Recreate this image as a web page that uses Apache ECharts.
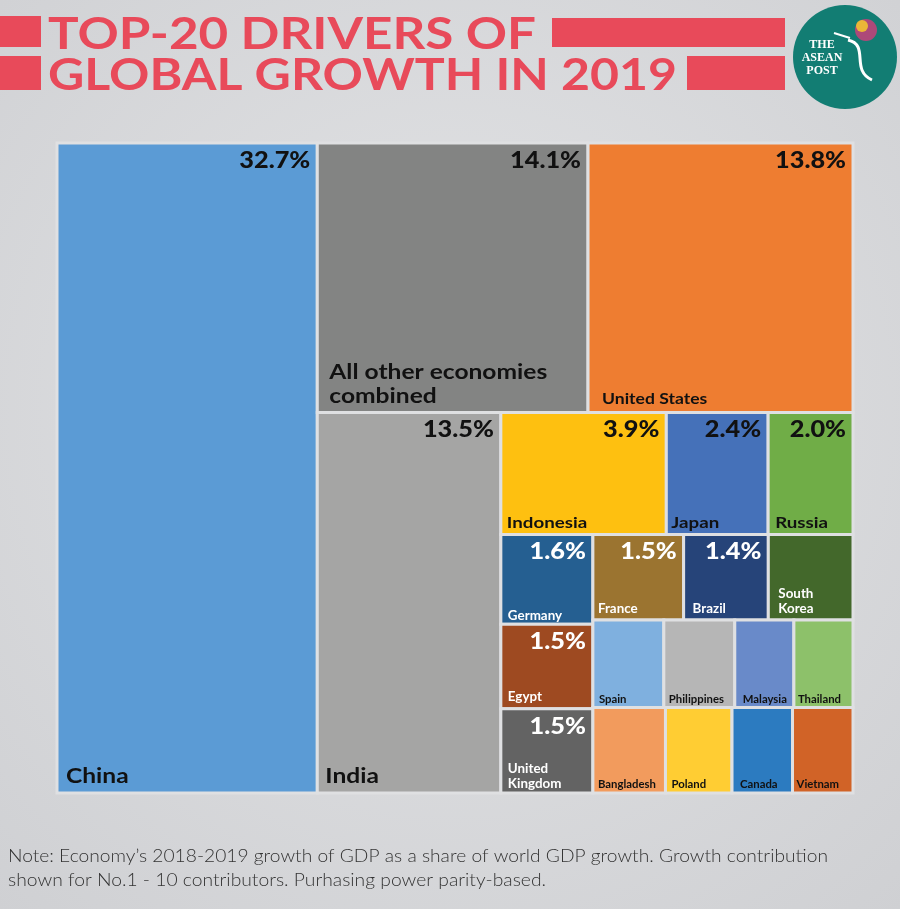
<!DOCTYPE html>
<html>
<head>
<meta charset="utf-8">
<script src="https://cdn.jsdelivr.net/npm/echarts@6/dist/echarts.min.js"></script>
<style>
html,body{margin:0;padding:0;width:900px;height:909px;overflow:hidden;}
#chart{width:900px;height:909px;}
</style>
</head>
<body>
<div id="chart"></div>
<script>
// ---------------- DATA ----------------
const economies = ['China','All other economies combined','United States','India','Indonesia','Japan','Russia',
  'Germany','France','Brazil','South Korea','Egypt','United Kingdom',
  'Spain','Philippines','Malaysia','Thailand','Bangladesh','Poland','Canada','Vietnam'];
const shares = [32.7,14.1,13.8,13.5,3.9,2.4,2.0,1.6,1.5,1.4,1.4,1.5,1.5,1.2,1.2,1.0,1.0,1.2,1.1,1.0,1.0];
const shareShown = [true,true,true,true,true,true,true,true,true,true,false,true,true,false,false,false,false,false,false,false,false];
const displayNames = ['China','All other economies\ncombined','United States','India','Indonesia','Japan','Russia',
  'Germany','France','Brazil','South\nKorea','Egypt','United\nKingdom',
  'Spain','Philippines','Malaysia','Thailand','Bangladesh','Poland','Canada','Vietnam'];
const titleLines = ['TOP-20 DRIVERS OF','GLOBAL GROWTH IN 2019'];
const noteLines = ["Note: Economy\u2019s 2018-2019 growth of GDP as a share of world GDP growth. Growth contribution",
  "shown for No.1 - 10 contributors. Purhasing power parity-based."];

// nesting of the treemap: 'h' = side by side, 'v' = stacked
const structure = ['h','China',['v',['h','All other economies combined','United States'],
  ['h','India',['v',['h','Indonesia','Japan','Russia'],
    ['h',['v','Germany','Egypt','United Kingdom'],
      ['v',['h','France','Brazil','South Korea'],
        ['v',['h','Spain','Philippines','Malaysia','Thailand'],['h','Bangladesh','Poland','Canada','Vietnam']]]]]]]];

// ---------------- STYLES ----------------
const cellColors = {
  'China':'#5b9bd5','All other economies combined':'#838483','United States':'#ee7d31','India':'#a5a5a4',
  'Indonesia':'#fec010','Japan':'#4571b9','Russia':'#70ad47','Germany':'#255f91','France':'#9b7430',
  'Brazil':'#264479','South Korea':'#43682b','Egypt':'#9e4a21','United Kingdom':'#636363',
  'Spain':'#7fb0df','Philippines':'#b6b6b6','Malaysia':'#698ac9','Thailand':'#8dc16a',
  'Bangladesh':'#f29b5d','Poland':'#ffcd33','Canada':'#2c7bc0','Vietnam':'#d16327'
};
const whiteText = ['Germany','France','Brazil','South Korea','Egypt','United Kingdom'];
// [nameSize, pctSize, nameLeftPad, nameBottomPad]
const labelSizes = {
  'China':[21,23,9,5],'All other economies combined':[21,23,12,4],'United States':[15,23,14,5],'India':[21,23,8,5],
  'Indonesia':[16,23,6,3],'Japan':[16,23,5,3],'Russia':[16,23,7,3],
  'Germany':[13,23,7,1],'France':[13,23,5,4],'Brazil':[13,23,9,4],'South Korea':[13,23,10,4],
  'Egypt':[13,23,7,4],'United Kingdom':[13,23,7,2],
  'Spain':[11,0,6,2],'Philippines':[11,0,5,2],'Malaysia':[11,0,8,2],'Thailand':[11,0,4,2],
  'Bangladesh':[11,0,5,2],'Poland':[11,0,6,2],'Canada':[11,0,8,2],'Vietnam':[11,0,4,2]
};
const FONT = 'Lato, "Open Sans", sans-serif';

// ---------------- LAYOUT (slice & dice from values) ----------------
function total(node){
  if (typeof node === 'string') return shares[economies.indexOf(node)];
  let s = 0; for (let k=1;k<node.length;k++) s += total(node[k]); return s;
}
const cells = [];
function layout(node,x0,y0,x1,y1){
  if (typeof node === 'string'){ cells.push([x0,y0,x1,y1,economies.indexOf(node)]); return; }
  const dir = node[0], t = total(node);
  let pos = dir==='h'?x0:y0;
  for (let k=1;k<node.length;k++){
    const f = total(node[k])/t;
    if (dir==='h'){ const w=(x1-x0)*f; layout(node[k],pos,y0,pos+w,y1); pos+=w; }
    else { const h=(y1-y0)*f; layout(node[k],x0,pos,x1,pos+h); pos+=h; }
  }
}
layout(structure,0,0,1,1);

// ---------------- HELPERS ----------------
const mctx = document.createElement('canvas').getContext('2d');
function measure(text,font){ mctx.font = font; return mctx.measureText(text).width; }

function renderItem(params, api){
  const i = api.value(4);
  const name = economies[i];
  const p0 = api.coord([api.value(0), api.value(1)]);
  const p1 = api.coord([api.value(2), api.value(3)]);
  const sz = labelSizes[name];
  const tc = whiteText.indexOf(name)>=0 ? '#ffffff' : '#111111';
  const children = [{
    type:'rect',
    shape:{x:p0[0],y:p0[1],width:p1[0]-p0[0],height:p1[1]-p0[1]},
    style:{fill:cellColors[name],stroke:'#dfe0e2',lineWidth:3}
  }];
  if (shareShown[i]){
    children.push({type:'text',x:p1[0]-7,y:p0[1]+6,scaleX:1.1,
      style:{text:shares[i].toFixed(1)+'%',fill:tc,font:'900 '+sz[1]+'px '+FONT,align:'right',verticalAlign:'top'}});
  }
  const nscale = sz[0] >= 15 ? 1.17 : 1.03;
  children.push({type:'text',x:p0[0]+sz[2],y:p1[1]-sz[3],scaleX:nscale,
    style:{text:displayNames[i],fill:tc,font:'bold '+sz[0]+'px '+FONT,align:'left',verticalAlign:'bottom',lineHeight:Math.round(sz[0]*1.15)}});
  return {type:'group',children:children};
}

// ---------------- GRAPHICS (title, logo, note) ----------------
const red = '#e84a5a';
const titleFont = 'bold 44px ' + FONT;
const titleW = [488, 629];
const graphics = [
  {type:'rect',shape:{x:0,y:16,width:41,height:31},style:{fill:red}},
  {type:'rect',shape:{x:0,y:56,width:41,height:34},style:{fill:red}},
  {type:'rect',shape:{x:552,y:18,width:233,height:29},style:{fill:red}},
  {type:'rect',shape:{x:687,y:56,width:98,height:34},style:{fill:red}},
  {type:'circle',shape:{cx:845,cy:57,r:52},style:{fill:'#127d73'}},
  {type:'text',x:822,y:58,style:{text:'THE\nASEAN\nPOST',fill:'#ffffff',font:'bold 12px "Liberation Serif", serif',align:'center',verticalAlign:'middle',lineHeight:13}},
  {type:'bezierCurve',shape:{x1:848,y1:40,x2:872,y2:80,cpx1:870,cpy1:45,cpx2:850,cpy2:70},style:{stroke:'#ffffff',lineWidth:3,fill:null}},
  {type:'line',shape:{x1:834,y1:33,x2:850,y2:38},style:{stroke:'#ffffff',lineWidth:2}},
  {type:'circle',shape:{cx:866,cy:30,r:11},style:{fill:'#c9407a',opacity:0.85}},
  {type:'circle',shape:{cx:862,cy:26,r:6},style:{fill:'#f2c230',opacity:0.9}}
];
titleLines.forEach(function(t,k){
  const w = measure(t,titleFont);
  graphics.push({type:'text',x:48,y:k===0?35:76,scaleX:titleW[k]/w,
    style:{text:t,fill:red,font:titleFont,align:'left',verticalAlign:'middle'}});
});
const noteFont = '300 17px ' + FONT;
noteLines.forEach(function(t,k){
  const w = measure(t,noteFont);
  const target = k===0 ? 820 : 538;
  graphics.push({type:'text',x:8,y:k===0?857:881,scaleX:target/w,
    style:{text:t,fill:'#333333',font:noteFont,align:'left',verticalAlign:'middle'}});
});

// ---------------- CHART ----------------
const chart = echarts.init(document.getElementById('chart'));
chart.setOption({
  backgroundColor:{type:'radial',x:0.5,y:0.45,r:0.75,colorStops:[{offset:0,color:'#e3e4e6'},{offset:1,color:'#cfd0d3'}]},
  animation:false,
  grid:{left:57,top:143,width:796,height:650},
  xAxis:{type:'value',min:0,max:1,show:false},
  yAxis:{type:'value',min:0,max:1,inverse:true,show:false},
  series:[{type:'custom',renderItem:renderItem,clip:false,data:cells,encode:{x:[0,2],y:[1,3]}}],
  graphic:graphics
});
</script>
</body>
</html>
